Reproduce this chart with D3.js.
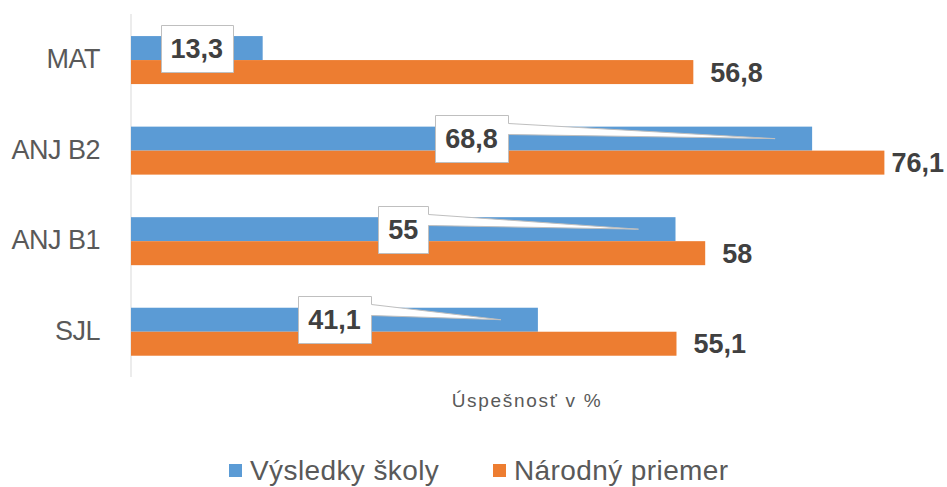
<!DOCTYPE html>
<html><head><meta charset="utf-8">
<script src="https://cdn.jsdelivr.net/npm/d3@7"></script>
<style>body{margin:0;background:#fff}svg{display:block}</style>
</head><body>
<svg id="chart" width="947" height="487"></svg>
<script>
const categories = ["MAT", "ANJ B2", "ANJ B1", "SJL"];
const schoolValues = [13.3, 68.8, 55, 41.1];
const nationalValues = [56.8, 76.1, 58, 55.1];
const seriesNames = ["Výsledky školy", "Národný priemer"];
const axisTitle = "Úspešnosť v %";
const colors = ["#5B9BD5", "#ED7D31"];
const fmt = v => String(v).replace(".", ",");

const svg = d3.select("#chart");
const x = d3.scaleLinear().domain([0, 80]).range([131, 131 + 80 * 9.9]);
const y = d3.scaleBand().domain(categories).range([14.8, 377]).paddingInner(0.47).paddingOuter(0.235);
const sub = d3.scaleBand().domain([0, 1]).range([0, y.bandwidth()]);

// axis line
svg.append("line").attr("x1", x(0)).attr("x2", x(0)).attr("y1", 14).attr("y2", 377)
  .attr("stroke", "#d9d9d9").attr("stroke-width", 1);

// category labels
svg.selectAll(".cat").data(categories).enter().append("text")
  .attr("x", 100).attr("y", d => y(d) + y.bandwidth() / 2 + 8)
  .attr("text-anchor", "end").attr("font-family", "Liberation Sans, Arial, sans-serif")
  .attr("font-size", 27).attr("letter-spacing", -0.5).attr("fill", "#595959").text(d => d);

const rows = categories.map((c, i) => ({c, s: schoolValues[i], n: nationalValues[i]}));

// bars
[schoolValues, nationalValues].forEach((vals, si) => {
  svg.selectAll(".bar" + si).data(categories).enter().append("rect")
    .attr("x", x(0)).attr("y", (d) => y(d) + sub(si))
    .attr("width", (d, i) => x(vals[i]) - x(0)).attr("height", sub.bandwidth())
    .attr("fill", colors[si]);
});

const labelFont = "Liberation Sans, Arial, sans-serif";
// national labels
rows.forEach(r => {
  const cy = y(r.c) + sub(1) + sub.bandwidth() / 2;
  const t = svg.append("text").attr("font-family", labelFont).attr("font-weight", "bold")
    .attr("font-size", 27).attr("fill", "#404040").attr("y", cy + 9.5).text(fmt(r.n));
  const w = t.node().getComputedTextLength();
  const lx = Math.min(x(r.n) + 17, 944 - w);
  t.attr("x", lx);
});

// school labels with callout boxes
rows.forEach(r => {
  const cy = y(r.c) + sub(0) + sub.bandwidth() / 2;
  const cx = x(r.s / 2);
  const g = svg.append("g");
  const path = g.append("path").attr("fill", "#fff").attr("stroke", "#bfbfbf").attr("stroke-width", 1);
  const t = g.append("text").attr("font-family", labelFont).attr("font-weight", "bold")
    .attr("font-size", 27).attr("fill", "#404040").attr("text-anchor", "middle")
    .attr("x", cx).attr("y", cy + 9.5).text(fmt(r.s));
  const w = t.node().getComputedTextLength() + 20;
  const h = 47;
  const L = Math.round(cx - w / 2) + 0.5, R = Math.round(cx + w / 2) + 0.5;
  const T = Math.round(cy - h / 2) + 0.5, B = T + h;
  const px = x(r.s) - 37, py = cy;
  let d;
  if (px > R + 5) {
    d = `M${L},${T}H${R}V${T + 8}L${px},${py}L${R},${T + 19}V${B}H${L}Z`;
  } else {
    d = `M${L},${T}H${R}V${B}H${L}Z`;
  }
  path.attr("d", d);
});

// axis title
svg.append("text").attr("x", 527).attr("y", 407).attr("text-anchor", "middle")
  .attr("font-family", labelFont).attr("font-size", 19).attr("letter-spacing", 1.7)
  .attr("fill", "#595959").text(axisTitle);

// legend
const legendX = [229, 493];
seriesNames.forEach((n, i) => {
  svg.append("rect").attr("x", legendX[i]).attr("y", 464).attr("width", 13).attr("height", 13).attr("fill", colors[i]);
  svg.append("text").attr("x", legendX[i] + 21).attr("y", 480)
    .attr("font-family", labelFont).attr("font-size", 28).attr("letter-spacing", 0.4).attr("fill", "#595959").text(n);
});
</script>
</body></html>
